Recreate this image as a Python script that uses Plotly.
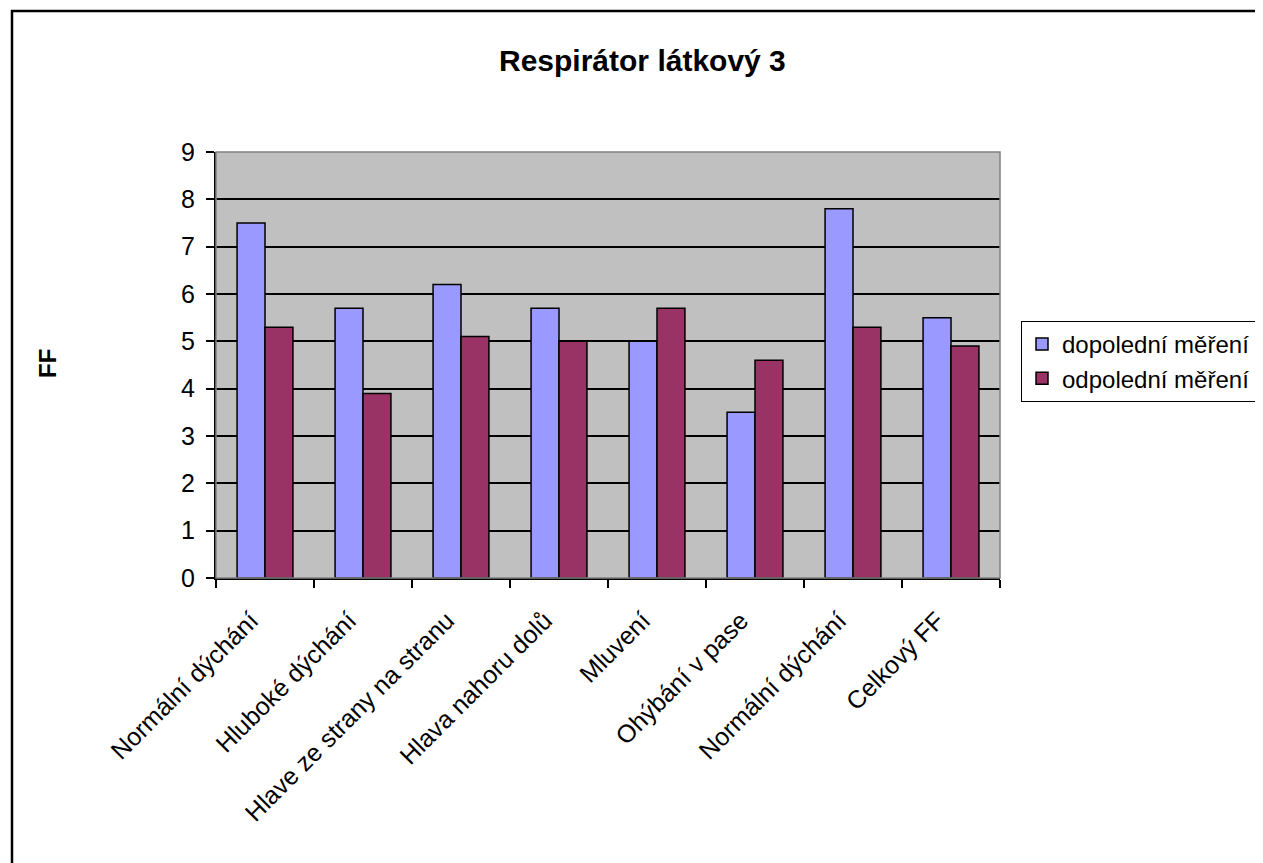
import plotly.graph_objects as go

categories = ["Normální dýchání", "Hluboké dýchání", "Hlave ze strany na stranu",
              "Hlava nahoru dolů", "Mluvení", "Ohýbání v pase", "Normální dýchání", "Celkový FF"]
dopoledni = [7.5, 5.7, 6.2, 5.7, 5.0, 3.5, 7.8, 5.5]
odpoledni = [5.3, 3.9, 5.1, 5.0, 5.7, 4.6, 5.3, 4.9]
series_names = ["dopolední měření", "odpolední měření"]
y_ticks = [0, 1, 2, 3, 4, 5, 6, 7, 8, 9]

OFF = 8  # page body margin
W, H = 1263 - OFF, 863 - OFF
L, T = 216 - OFF, 152 - OFF
pw, ph = 784, 426
R, B = W - L - pw, H - T - ph


def px(xp):
    return (xp - OFF - L) / pw


def py(yp):
    return (T + OFF + ph - yp) / ph


xs = list(range(len(categories)))

fig = go.Figure()
fig.add_trace(go.Bar(x=xs, y=dopoledni, name=series_names[0],
                     marker=dict(color="#9999FF", line=dict(color="black", width=1.5))))
fig.add_trace(go.Bar(x=xs, y=odpoledni, name=series_names[1],
                     marker=dict(color="#993366", line=dict(color="black", width=1.5))))

font = "Arial, Liberation Sans, sans-serif"

fig.update_layout(
    width=W, height=H,
    margin=dict(l=L, r=R, t=T, b=B, autoexpand=False),
    paper_bgcolor="white", plot_bgcolor="#C0C0C0",
    barmode="group", bargap=0.43, bargroupgap=0,
    font=dict(family=font, size=24, color="black"),
    showlegend=True,
    legend=dict(x=px(1021), y=py(321), xanchor="left", yanchor="top",
                bordercolor="black", borderwidth=1, bgcolor="white",
                font=dict(size=24), tracegroupgap=0, itemwidth=30),
    annotations=[
        dict(text="<b>Respirátor látkový 3</b>", xref="paper", yref="paper",
             x=px(642), y=py(61), xanchor="center", yanchor="middle",
             showarrow=False, font=dict(size=30)),
        dict(text="<b>FF</b>", xref="paper", yref="paper",
             x=px(47), y=py(364), xanchor="center", yanchor="middle",
             showarrow=False, textangle=-90, font=dict(size=24)),
    ],
    shapes=[
        dict(type="rect", xref="paper", yref="paper",
             x0=px(12), x1=px(1300), y0=py(900), y1=py(11),
             line=dict(color="black", width=2.5), fillcolor="rgba(0,0,0,0)", layer="below"),
        dict(type="rect", xref="paper", yref="paper", x0=0, x1=1, y0=0, y1=1,
             line=dict(color="#808080", width=1.5), fillcolor="rgba(0,0,0,0)", layer="above"),
    ],
)

fig.update_xaxes(
    range=[-0.5, len(categories) - 0.5],
    tickmode="array", tickvals=xs, ticktext=categories, tickangle=-45,
    ticks="outside", ticklen=0.1, tickcolor="black",
    ticklabelstandoff=16, ticklabelshift=-14,
    showline=True, linecolor="black", linewidth=2, showgrid=False, zeroline=False,
    tickfont=dict(size=25),
    minor=dict(tickmode="linear", tick0=-0.5, dtick=1, ticks="outside", ticklen=8,
               tickcolor="black", tickwidth=2, showgrid=False),
)
fig.update_yaxes(
    range=[0, 9], tickmode="array", tickvals=y_ticks,
    ticks="outside", ticklen=8, tickcolor="black", tickwidth=2,
    ticklabelstandoff=6,
    showline=True, linecolor="black", linewidth=2,
    showgrid=True, gridcolor="black", gridwidth=1.5, zeroline=False,
    tickfont=dict(size=25),
)

fig.write_html("out.html")
